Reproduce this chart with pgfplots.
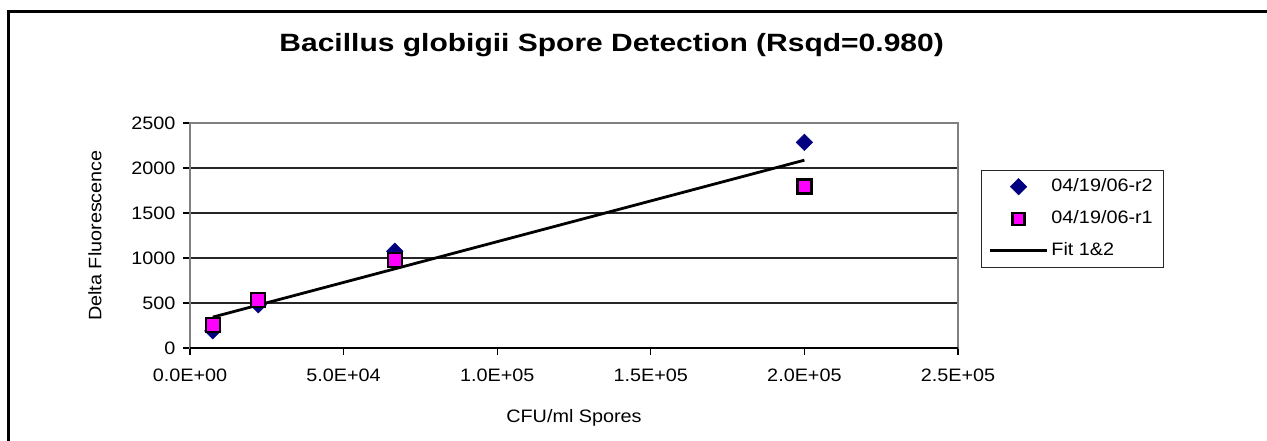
\documentclass[border=0pt]{standalone}
\usepackage{fontspec}
\setmainfont{Liberation Sans}[FakeStretch=1.1]
\newfontfamily\titlefont{Liberation Sans}[FakeStretch=1.2]
\usepackage{pgfplots}
\pgfplotsset{compat=1.18}
\definecolor{navyb}{RGB}{0,0,128}
\definecolor{mag}{RGB}{255,0,255}
\definecolor{framegray}{RGB}{128,128,128}
\begin{document}
\begin{tikzpicture}[x=1pt,y=1pt]
\useasboundingbox (0,0) rectangle (1267,440);
\fill[white] (0,0) rectangle (1267,440);
\draw[line width=3pt] (8.5,-5) -- (8.5,428.5) -- (1275,428.5);
\begin{axis}[
  at={(190pt,92pt)}, anchor=south west,
  scale only axis, width=768pt, height=225pt,
  xmin=0, xmax=250000, ymin=0, ymax=2500,
  xtick={0,50000,100000,150000,200000,250000},
  xticklabels={0.0E+00,5.0E+04,1.0E+05,1.5E+05,2.0E+05,2.5E+05},
  scaled x ticks=false,
  ytick={0,500,1000,1500,2000,2500},
  yticklabels={0,500,1000,1500,2000,2500},
  ymajorgrids, grid style={black!85, line width=1.1pt},
  axis line style={framegray, line width=2.2pt},
  tick align=outside, xtick pos=left, ytick pos=left,
  major tick length=7pt,
  major tick style={black, line width=1.3pt},
  tick label style={font=\fontsize{18}{18}\selectfont},
  yticklabel style={xshift=-4pt},
  xticklabel style={yshift=-10pt},
  title={Bacillus globigii Spore Detection (Rsqd=0.980)},
  title style={at={(rel axis cs:0.549,1.2933)}, anchor=base, font=\titlefont\bfseries\fontsize{25}{25}\selectfont},
  xlabel={CFU/ml Spores},
  xlabel style={at={(rel axis cs:0.5,-0.331)}, anchor=base, font=\fontsize{18}{18}\selectfont},
  ylabel={Delta Fluorescence},
  ylabel style={at={(rel axis cs:-0.1237,0.5)}, anchor=center, font=\fontsize{18}{18}\selectfont},
  legend cell align=left,
  legend style={at={(1.0299,0.791)}, anchor=north west, draw=black!85,
    font=\fontsize{18}{18}\selectfont, inner xsep=7.5pt, inner ysep=6pt, row sep=11pt,
    nodes={inner xsep=3pt, inner ysep=2pt, text height=13pt, text depth=4pt}},
]
\addplot[only marks, mark=square*, mark size=5.8pt,
  mark options={rotate=45, fill=navyb, draw=navyb, line width=0.5pt},
  legend image code/.code={\path (0pt,0pt) (57pt,0pt);
    \draw[only marks, mark=square*, mark size=5.8pt, mark options={rotate=45, fill=navyb, draw=navyb, line width=0.5pt}] plot coordinates {(28.5pt,0pt)};}]
  coordinates {(7407,190) (22222,480) (66667,1075) (200000,2285)};
\addlegendentry{04/19/06-r2}
\addplot[only marks, mark=square*, mark size=7pt,
  mark options={fill=mag, draw=black, line width=2.4pt},
  legend image code/.code={\path (0pt,0pt) (57pt,0pt);
    \draw[only marks, mark=square*, mark size=6pt, mark options={fill=mag, draw=black, line width=2.2pt}] plot coordinates {(28.5pt,0pt)};}]
  coordinates {(7407,255) (22222,533) (66667,978) (200000,1793)};
\addlegendentry{04/19/06-r1}
\addplot[black, line width=2.8pt, mark=none,
  legend image code/.code={\draw[black, line width=2.8pt] (0pt,0pt) -- (57pt,0pt);}]
  coordinates {(7407,343) (200000,2087)};
\addlegendentry{Fit 1\&2}
\draw[black, line width=1.5pt] (rel axis cs:0,0) -- (rel axis cs:1,0);
\end{axis}
\end{tikzpicture}
\end{document}
